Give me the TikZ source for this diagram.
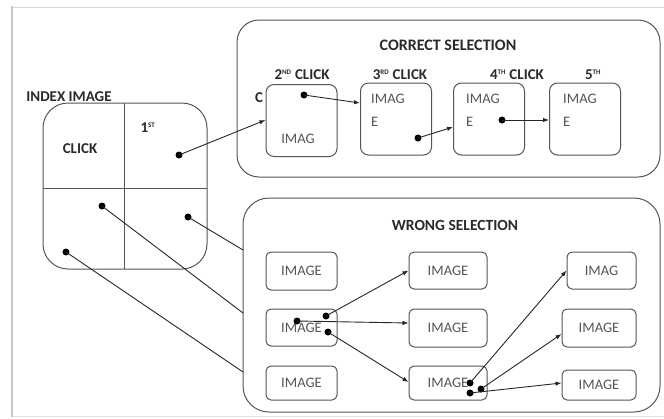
\documentclass[tikz,border=0pt]{standalone}
\usepackage{fontspec}
\setmainfont{Carlito}
\usetikzlibrary{arrows.meta,calc}
\definecolor{boxgray}{HTML}{555555}
\definecolor{txt}{HTML}{2A2A2A}
\definecolor{framegray}{HTML}{C8C8C8}
\begin{document}
\begin{tikzpicture}[x=1pt,y=-1pt,
  every node/.style={text=txt},
  bigbox/.style={draw=boxgray,line width=1pt,rounded corners=#1},
  cbox/.style={draw=boxgray,line width=1pt,rounded corners=8pt,minimum width=71pt,minimum height=72pt,inner sep=0pt},
  wbox/.style={draw=boxgray,line width=1pt,rounded corners=5pt,inner sep=0pt,font=\fontsize{14.5}{16}\selectfont,text=txt!80},
  lbl/.style={font=\bfseries\fontsize{15}{17}\selectfont,inner sep=0pt},
  itxt/.style={font=\fontsize{14.5}{23}\selectfont,inner sep=0pt,text=txt!80},
  sup/.style={},
  conn/.style={draw=black!85,line width=0.9pt},
  arr/.style={conn,-{Latex[length=6pt,width=4.5pt]}},
  dotc/.style={circle,fill=black,inner sep=0pt,minimum size=7pt}
]
\newcommand{\mysup}[1]{\textsuperscript{\fontsize{7}{7}\selectfont #1}}
\useasboundingbox (0,0) rectangle (664,418);
% outer frame
\draw[framegray!70,line width=1pt] (12,7) -- (672,7);
\draw[framegray!50,line width=1pt] (12,416) -- (672,416);
\draw[framegray,line width=2.5pt] (12,6) -- (12,417);

% big containers
\draw[bigbox=22pt] (237,20) rectangle (660,177);
\draw[bigbox=26pt] (243,198) rectangle (660,412);
\node[lbl,font=\bfseries\fontsize{16}{18}\selectfont] (ctitle) at (448,45) {CORRECT SELECTION};
\node[lbl,font=\bfseries\fontsize{15.5}{18}\selectfont] (wtitle) at (455,225) {WRONG SELECTION};

% index image
\node[lbl] (ititle) at (69,97) {INDEX IMAGE};
\draw[bigbox=25pt] (43,103) rectangle (207,269);
\draw[draw=boxgray,line width=0.9pt] (124,103) -- (124,269);
\draw[draw=boxgray,line width=0.9pt] (43,188) -- (207,188);
\node[lbl] (click) at (80,149) {CLICK};
\node[lbl] (first) at (148,128) {1\mysup{ST}};

% correct selection boxes
\node[cbox] (c1) at (301.5,120.5) {};
\node[cbox] (c2) at (396,119) {};
\node[cbox] (c3) at (489,119) {};
\node[cbox] (c4) at (585,119) {};
\node[lbl] (l2) at (302,75) {2\mysup{ND} CLICK};
\node[lbl] (l3) at (400,75) {3\mysup{RD} CLICK};
\node[lbl] (l4) at (517,75) {4\mysup{TH} CLICK};
\node[lbl] (l5) at (593,75) {5\mysup{TH}};
\node[lbl] (cc) at (259,98) {C};
\node[itxt] (t1) at (298,139) {IMAG};
\node[itxt,anchor=north west,align=left] (t2) at (371,94) {IMAG\\E};
\node[itxt,anchor=north west,align=left] (t3) at (466,94) {IMAG\\E};
\node[itxt,anchor=north west,align=left] (t4) at (563,94) {IMAG\\E};

% wrong selection boxes
\node[wbox,minimum width=71pt,minimum height=38pt] (w11) at (301.5,271) {IMAGE};
\node[wbox,minimum width=71pt,minimum height=37pt] (w12) at (301.5,327.5) {IMAGE};
\node[wbox,minimum width=71pt,minimum height=34pt] (w13) at (301.5,383) {IMAGE};
\node[wbox,minimum width=78pt,minimum height=37pt] (w21) at (448,270.5) {IMAGE};
\node[wbox,minimum width=78pt,minimum height=38pt] (w22) at (448,328) {IMAGE};
\node[wbox,minimum width=78pt,minimum height=34pt] (w23) at (448,383) {IMAGE};
\node[wbox,minimum width=69pt,minimum height=37pt] (w31) at (601.5,270.5) {IMAG};
\node[wbox,minimum width=74pt,minimum height=38pt] (w32) at (599,328) {IMAGE};
\node[wbox,minimum width=74pt,minimum height=30pt] (w33) at (599,385) {IMAGE};

% dots
\node[dotc] (d1) at (179,155) {};
\node[dotc] (d2) at (102,206) {};
\node[dotc] (d3) at (188,217) {};
\node[dotc] (d4) at (66,252) {};
\node[dotc] (e1) at (304,95) {};
\node[dotc] (e2) at (418,138) {};
\node[dotc] (e3) at (502,120) {};
\node[dotc] (f1) at (297,321) {};
\node[dotc] (f2) at (326,316) {};
\node[dotc] (f3) at (328,332) {};
\node[dotc] (g1) at (470,383) {};
\node[dotc] (g2) at (481,389) {};
\node[dotc] (g3) at (470,393) {};

% end points
\coordinate (k1) at ($(c1.west)+(0,-0.5)$);
\coordinate (k2) at ($(c2.west)+(0,-16)$);
\coordinate (k3) at ($(c3.west)+(0,8)$);
\coordinate (k4) at ($(c4.west)+(0,1)$);
\coordinate (p1) at (243,250);
\coordinate (p2) at (243,313);
\coordinate (p3) at (243,372);
\coordinate (q1) at (w21.west);
\coordinate (q2) at ($(w22.west)+(0,-5)$);
\coordinate (q3) at ($(w23.west)+(0,-1)$);
\coordinate (r1) at (w31.west);
\coordinate (r2) at ($(w32.west)+(0,6)$);
\coordinate (r3) at ($(w33.west)+(0,-2)$);

% connectors
\draw[arr] (d1.center) -- (k1);
\draw[arr] (e1.center) -- (k2);
\draw[arr] (e2.center) -- (k3);
\draw[arr] (e3.center) -- (k4);
\draw[conn] (d3.center) -- (p1);
\draw[conn] (d2.center) -- (p2);
\draw[conn] (d4.center) -- (p3);
\draw[arr] (f2.center) -- (q1);
\draw[arr] (f1.center) -- (q2);
\draw[arr] (f3.center) -- (q3);
\draw[arr] (g1.center) -- (r1);
\draw[arr] (g2.center) -- (r2);
\draw[arr] (g3.center) -- (r3);
\end{tikzpicture}
\end{document}
